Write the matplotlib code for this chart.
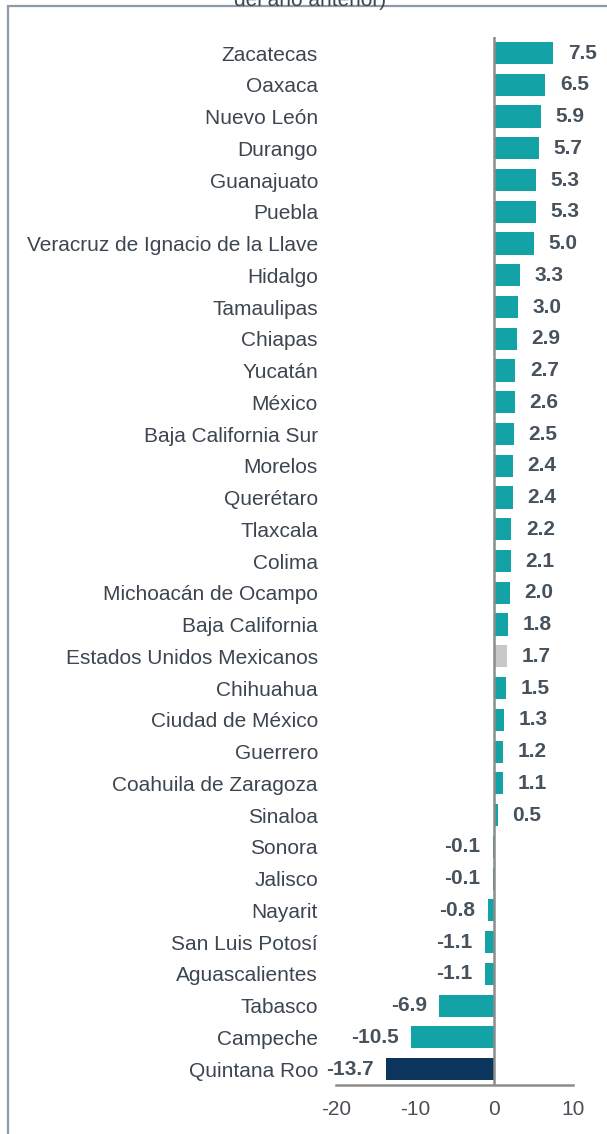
import matplotlib
matplotlib.use("Agg")
import matplotlib.pyplot as plt
from matplotlib.patches import Rectangle

states = ["Zacatecas", "Oaxaca", "Nuevo León", "Durango", "Guanajuato", "Puebla",
          "Veracruz de Ignacio de la Llave", "Hidalgo", "Tamaulipas", "Chiapas",
          "Yucatán", "México", "Baja California Sur", "Morelos", "Querétaro",
          "Tlaxcala", "Colima", "Michoacán de Ocampo", "Baja California",
          "Estados Unidos Mexicanos", "Chihuahua", "Ciudad de México", "Guerrero",
          "Coahuila de Zaragoza", "Sinaloa", "Sonora", "Jalisco", "Nayarit",
          "San Luis Potosí", "Aguascalientes", "Tabasco", "Campeche", "Quintana Roo"]
values = [7.5, 6.5, 5.9, 5.7, 5.3, 5.3, 5.0, 3.3, 3.0, 2.9, 2.7, 2.6, 2.5, 2.4, 2.4,
          2.2, 2.1, 2.0, 1.8, 1.7, 1.5, 1.3, 1.2, 1.1, 0.5, -0.1, -0.1, -0.8, -1.1,
          -1.1, -6.9, -10.5, -13.7]
xticks = [-20, -10, 0, 10]

plt.rcParams['font.family'] = ['Liberation Sans', 'DejaVu Sans']

TEAL = "#13a3a6"
NAVY = "#0b355c"
GRAY = "#c8c8c8"
colors = []
for s in states:
    if s == "Estados Unidos Mexicanos":
        colors.append(GRAY)
    elif s == "Quintana Roo":
        colors.append(NAVY)
    else:
        colors.append(TEAL)

fig = plt.figure(figsize=(6.07, 11.34), dpi=100)
ax = fig.add_axes([0.5535, 0.0432, 0.3905, 0.9240])

y = list(range(len(states)))
ax.barh(y, values, height=0.7, color=colors, zorder=2)
ax.set_ylim(len(states) - 0.5, -0.5)
ax.set_xlim(-20, 10)
ax.set_xticks(xticks)
ax.set_xticklabels([str(t) for t in xticks])
ax.set_yticks(y)
ax.set_yticklabels(states)

for sp in ["top", "right", "left"]:
    ax.spines[sp].set_visible(False)
ax.spines["bottom"].set_color("#8c8c8c")
ax.spines["bottom"].set_linewidth(1.8)
ax.axvline(0, color="#8c8c8c", lw=1.8, zorder=3)

ax.tick_params(axis="y", length=0, pad=13, labelsize=15, labelcolor="#3d4650")
ax.tick_params(axis="x", length=0, pad=11, labelsize=15, labelcolor="#4a4f55")

for yi, v in zip(y, values):
    if v >= 0:
        ax.annotate(f"{v:.1f}", (v, yi), xytext=(10.5, 0), textcoords="offset points",
                    ha="left", va="center", fontsize=15, fontweight="bold", color="#47525c")
    else:
        ax.annotate(f"{v:.1f}", (v, yi), xytext=(-9, 0), textcoords="offset points",
                    ha="right", va="center", fontsize=15, fontweight="bold", color="#47525c")

# outer frame (partially cropped)
fig.patches.append(Rectangle((8 / 607, -0.05), 1.2, 1 - 6 / 1134 + 0.05,
                             transform=fig.transFigure, fill=False,
                             edgecolor="#8d9aa7", linewidth=1.6))
fig.text(310 / 607, 1.0, "del año anterior)", ha="center", va="center",
         fontsize=15, color="#3d4650")

fig.savefig("out.png", dpi=100)
